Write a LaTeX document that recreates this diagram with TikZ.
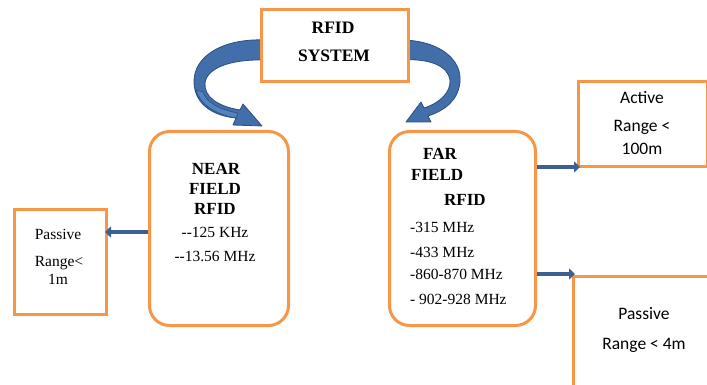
\documentclass[tikz,border=0pt]{standalone}
\usepackage{fontspec}
\setmainfont{Liberation Serif}
\newfontfamily\calfont{Carlito}
\usetikzlibrary{arrows.meta}

\definecolor{boxorange}{RGB}{247,150,70}
\definecolor{linkblue}{RGB}{58,96,148}
\definecolor{bandblue}{RGB}{66,110,170}
\definecolor{bandlight}{RGB}{84,130,190}
\definecolor{banddark}{RGB}{42,78,128}

\tikzset{
  plainbox/.style={draw=boxorange, line width=3pt, fill=white},
  roundbox/.style={plainbox, rounded corners=20pt},
  serif/.style={inner sep=0pt, font=\fontsize{15.5}{18}\selectfont},
  serifbold/.style={inner sep=0pt, font=\fontsize{17}{20}\selectfont\bfseries},
  titlebold/.style={inner sep=0pt, font=\fontsize{17.5}{21}\selectfont\bfseries},
  sans/.style={inner sep=0pt, font=\calfont\fontsize{17.5}{21}\selectfont},
  conn/.style={draw=linkblue, line width=4.5pt,
    -{Triangle[length=6pt,width=11pt]}},
  band/.style={fill=bandblue, draw=banddark, line width=0.8pt, line join=round},
  bandunder/.style={fill=bandlight, draw=banddark, line width=0.6pt},
}

\begin{document}
\begin{tikzpicture}[x=1pt, y=-1pt]
\useasboundingbox (0,0) rectangle (707,385);
\clip (0,0) rectangle (707,385);

% curved block arrows leaving the title box
\path[band] (266,40) .. controls (225,38) and (193,55) .. (194,83)
  .. controls (195,105) and (214,116) .. (236,118)
  -- (233,125) -- (262,126) -- (243,104) -- (240,110)
  .. controls (216,106) and (204,96) .. (205,83)
  .. controls (207,68) and (230,59) .. (266,60) -- cycle;
% lighter underside of the left band where it twists
\path[bandunder] (196,90) .. controls (200,104) and (214,114) .. (236,118)
  -- (238,113) .. controls (220,110) and (206,102) .. (203,92) -- cycle;
\path[band] (400,40) .. controls (440,40) and (462,60) .. (460,82)
  .. controls (458,100) and (446,110) .. (428,116)
  -- (431,122) -- (406,122) -- (421,102) -- (424,108)
  .. controls (440,103) and (451,92) .. (450,80)
  .. controls (448,66) and (430,58) .. (400,60) -- cycle;

% boxes
\node[plainbox, anchor=north west, minimum width=147pt, minimum height=72pt] (sys) at (260,8) {};
\node[roundbox, anchor=north west, minimum width=139pt, minimum height=194pt] (near) at (148,130) {};
\node[roundbox, anchor=north west, minimum width=146pt, minimum height=194pt] (far) at (388,130) {};
\node[plainbox, anchor=north west, minimum width=92pt, minimum height=105pt] (pasl) at (13,208) {};
\node[plainbox, anchor=north west, minimum width=129pt, minimum height=85pt] (act) at (577,80) {};
\node[plainbox, anchor=north west, minimum width=160pt, minimum height=140pt] (pasr) at (572,275) {};

% straight connectors
\coordinate (tl) at (105,232);
\coordinate (ta) at (580,167);
\coordinate (tp) at (575,274);
\draw[conn] (near.west |- tl) -- (tl);
\draw[conn] (far.east |- ta) -- (ta);
\draw[conn] (far.east |- tp) -- (tp);

% title
\node[titlebold, anchor=base] (t1) at (333,34) {RFID};
\node[titlebold, anchor=base] (t2) at (334,62) {SYSTEM};

% near field
\node[serifbold, anchor=base] (n1) at (216,175) {NEAR};
\node[serifbold, anchor=base] (n2) at (215,194) {FIELD};
\node[serifbold, anchor=base] (n3) at (215,214) {RFID};
\node[serif, anchor=base] (n4) at (215,237) {-\kern0pt-125 KHz};
\node[serif, anchor=base] (n5) at (215,261) {-\kern0pt-13.56 MHz};

% far field
\node[serifbold, anchor=base west] (f1) at (423,160) {FAR};
\node[serifbold, anchor=base west] (f2) at (411,180) {FIELD};
\node[serifbold, anchor=base west] (f3) at (444,205) {RFID};
\node[serif, anchor=base west] (f4) at (410,232) {-315 MHz};
\node[serif, anchor=base west] (f5) at (410,257) {-433 MHz};
\node[serif, anchor=base west] (f6) at (410,279) {-860-870 MHz};
\node[serif, anchor=base west] (f7) at (410,304) {- 902-928 MHz};

% passive, short range
\node[serif, anchor=base] (p1) at (58,239) {Passive};
\node[serif, anchor=base] (p2) at (59,266) {Range<};
\node[serif, anchor=base] (p3) at (58,284) {1m};

% active
\node[sans, anchor=base] (a1) at (642,104) {Active};
\node[sans, anchor=base] (a2) at (642,132) {Range <};
\node[sans, anchor=base] (a3) at (642,154) {100m};

% passive, far range
\node[sans, anchor=base] (r1) at (644,319) {Passive};
\node[sans, anchor=base] (r2) at (644,349) {Range < 4m};
\end{tikzpicture}
\end{document}
